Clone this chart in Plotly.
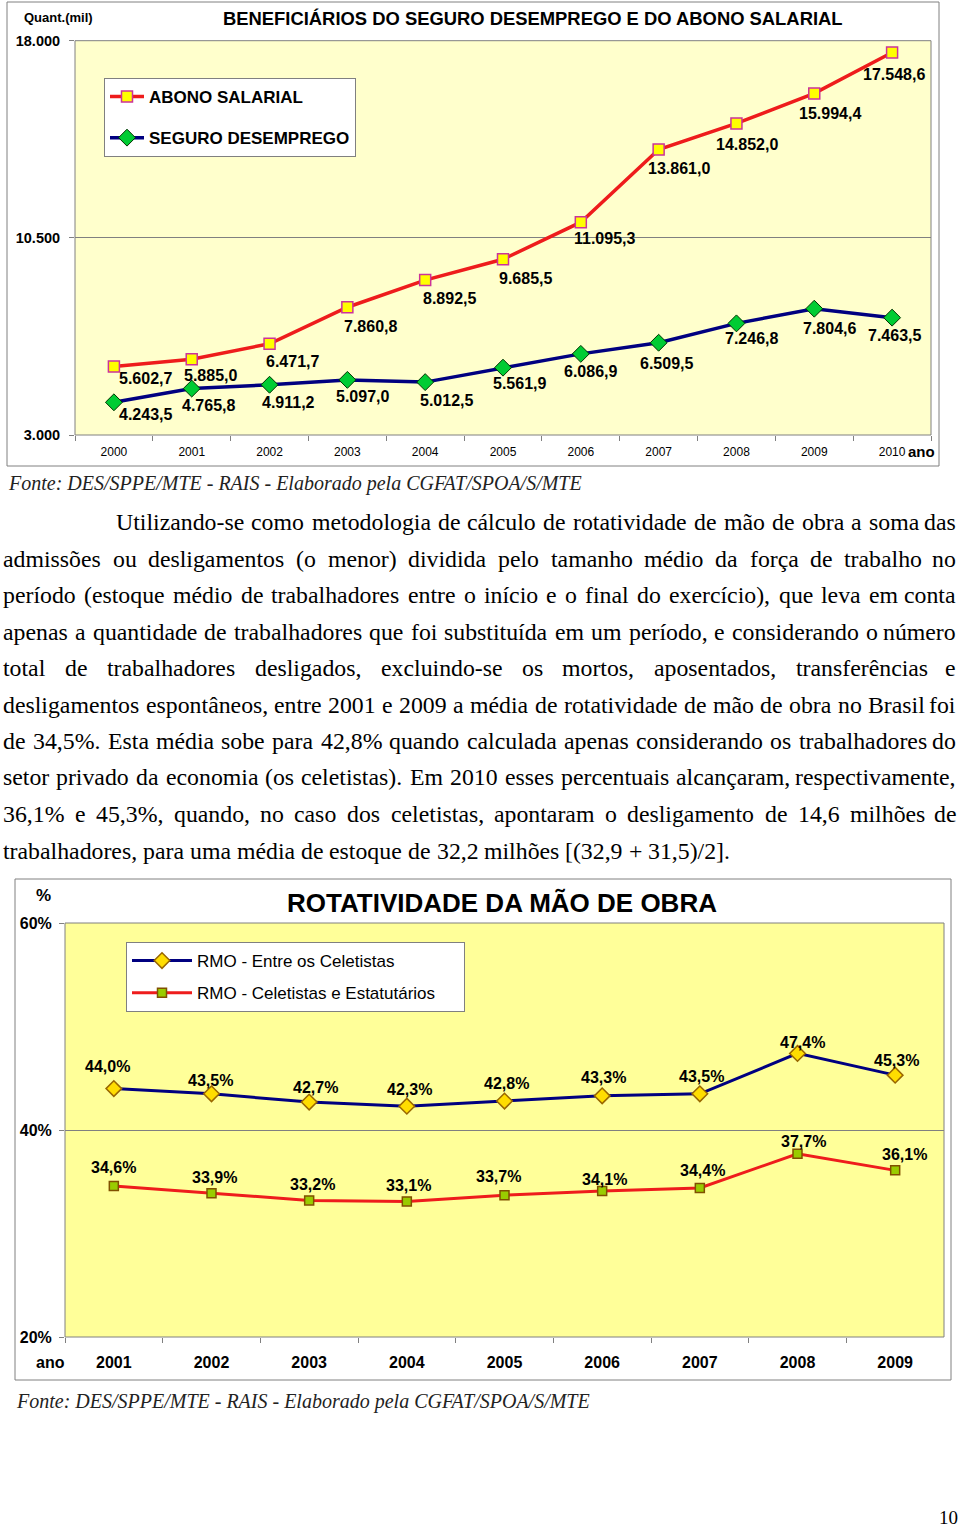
import plotly.graph_objects as go

W, H = 960, 1528

# ---------------- data ----------------
anos_1 = ['2000', '2001', '2002', '2003', '2004', '2005', '2006', '2007', '2008', '2009', '2010']
abono_salarial = [5602.7, 5885.0, 6471.7, 7860.8, 8892.5, 9685.5, 11095.3, 13861.0, 14852.0, 15994.4, 17548.6]
seguro_desemprego = [4243.5, 4765.8, 4911.2, 5097.0, 5012.5, 5561.9, 6086.9, 6509.5, 7246.8, 7804.6, 7463.5]
ticks_1 = [3000, 10500, 18000]
ticks_1_txt = ['3.000', '10.500', '18.000']

anos_2 = ['2001', '2002', '2003', '2004', '2005', '2006', '2007', '2008', '2009']
rmo_celetistas = [44.0, 43.5, 42.7, 42.3, 42.8, 43.3, 43.5, 47.4, 45.3]
rmo_cel_estat = [34.6, 33.9, 33.2, 33.1, 33.7, 34.1, 34.4, 37.7, 36.1]
ticks_2 = [20, 40, 60]
ticks_2_txt = ['20%', '40%', '60%']

paragrafo = [
    "Utilizando-se como metodologia de cálculo de rotatividade de mão de obra a soma das",
    "admissões ou desligamentos (o menor) dividida pelo tamanho médio da força de trabalho no",
    "período (estoque médio de trabalhadores entre o início e o final do exercício), que leva em conta",
    "apenas a quantidade de trabalhadores que foi substituída em um período, e considerando o número",
    "total de trabalhadores desligados, excluindo-se os mortos, aposentados, transferências e",
    "desligamentos espontâneos, entre 2001 e 2009 a média de rotatividade de mão de obra no Brasil foi",
    "de 34,5%. Esta média sobe para 42,8% quando calculada apenas considerando os trabalhadores do",
    "setor privado da economia (os celetistas). Em 2010 esses percentuais alcançaram, respectivamente,",
    "36,1% e 45,3%, quando, no caso dos celetistas, apontaram o desligamento de 14,6 milhões de",
    "trabalhadores, para uma média de estoque de 32,2 milhões [(32,9 + 31,5)/2].",
]
fonte = "Fonte: DES/SPPE/MTE - RAIS - Elaborado pela CGFAT/SPOA/S/MTE"

# ---------------- label offsets (px, style only) ----------------
ab_dx = [32, 19, 23, 23, 24, 22, 24, 20, 11, 16, 2]
ab_dy = [-12, -16, -18, -19, -18, -19, -16, -19, -21, -20, -22]
sg_dx = [32, 17, 19, 15, 21, 16, 10, 8, 15, 15, 2]
sg_dy = [-12, -17, -18, -17, -18, -16, -18, -21, -15, -20, -18]
c_dx = [-6, -1, 6, 3, 2, 1, 2, 5, 1]
c_dy = [22, 13, 15, 17, 18, 18, 17, 11, 15]
t_dx = [0, 3, 3, 2, -6, 2, 3, 6, 9]
t_dy = [18, 16, 16, 16, 19, 12, 17, 12, 16]

SANS = "Liberation Sans, Arial, sans-serif"
SERIF = "Liberation Serif, Times New Roman, serif"
GREY = '#808080'
PAD = '\u00a0' * 5


def px(x):
    return x / W


def py(y):
    return 1 - y / H


def fmt_br(v):
    return f"{v:,.1f}".replace(',', 'X').replace('.', ',').replace('X', '.')


def fmt_pct(v):
    return f"{v:.1f}%".replace('.', ',')


fig = go.Figure()

# chart 1 traces
fig.add_trace(go.Scatter(
    x=anos_1, y=abono_salarial, name='ABONO SALARIAL', mode='lines+markers',
    line=dict(color='#ee1c1c', width=3.5),
    marker=dict(symbol='square', size=11, color='#ffff00', line=dict(color='#cc3399', width=1.5)),
    xaxis='x', yaxis='y', legend='legend', legendgroup='a', hoverinfo='skip'))
fig.add_trace(go.Scatter(
    x=anos_1, y=seguro_desemprego, name='SEGURO DESEMPREGO', mode='lines+markers',
    line=dict(color='#000080', width=3.5),
    marker=dict(symbol='diamond', size=13, color='#00cc33', line=dict(color='#003300', width=1)),
    xaxis='x', yaxis='y', legend='legend', legendgroup='b', hoverinfo='skip'))

# chart 2 traces
fig.add_trace(go.Scatter(
    x=anos_2, y=rmo_celetistas, name='RMO - Entre os Celetistas', mode='lines+markers',
    line=dict(color='#000080', width=3),
    marker=dict(symbol='diamond', size=12, color='#ffdd00', line=dict(color='#996600', width=1.5)),
    xaxis='x2', yaxis='y2', legend='legend2', legendgroup='c', hoverinfo='skip'))
fig.add_trace(go.Scatter(
    x=anos_2, y=rmo_cel_estat, name='RMO - Celetistas e Estatutários' + PAD, mode='lines+markers',
    line=dict(color='#ee1c1c', width=3),
    marker=dict(symbol='square', size=9, color='#99cc00', line=dict(color='#805000', width=1.5)),
    xaxis='x2', yaxis='y2', legend='legend2', legendgroup='d', hoverinfo='skip'))

shapes = [
    # outer chart frames
    dict(type='rect', xref='paper', yref='paper', x0=px(7), x1=px(939), y0=py(466), y1=py(2),
         line=dict(color=GREY, width=1), fillcolor='white', layer='below'),
    dict(type='rect', xref='paper', yref='paper', x0=px(15), x1=px(951), y0=py(1380), y1=py(879),
         line=dict(color=GREY, width=1), fillcolor='white', layer='below'),
    # plot areas
    dict(type='rect', xref='x domain', yref='y domain', x0=0, x1=1, y0=0, y1=1,
         line=dict(color=GREY, width=1), fillcolor='#ffffcc', layer='below'),
    dict(type='rect', xref='x2 domain', yref='y2 domain', x0=0, x1=1, y0=0, y1=1,
         line=dict(color=GREY, width=1), fillcolor='#ffff99', layer='below'),
]

ann = []


def note(text, x, y, size, xanchor='center', family=SANS, color='black'):
    ann.append(dict(text=text, x=px(x), y=py(y), xref='paper', yref='paper', xanchor=xanchor,
                    yanchor='middle', showarrow=False, font=dict(family=family, size=size, color=color),
                    borderpad=0))


# chart 1 texts
note('<b>Quant.(mil)</b>', 58, 17, 13)
note('<b>BENEFICIÁRIOS DO SEGURO DESEMPREGO E DO ABONO SALARIAL</b>', 533, 19, 18.4)
note('<b>ano</b>', 907, 452, 15, xanchor='left')
note('<i>' + fonte + '</i>', 7, 484, 20, xanchor='left', family=SERIF, color='#222222')

# data labels chart 1 (x given as category index on the category axis)
for i in range(len(anos_1)):
    ann.append(dict(text='<b>' + fmt_br(abono_salarial[i]) + '</b>', x=i, y=abono_salarial[i],
                    xref='x', yref='y', xshift=ab_dx[i], yshift=ab_dy[i], showarrow=False,
                    font=dict(family=SANS, size=16, color='black')))
    ann.append(dict(text='<b>' + fmt_br(seguro_desemprego[i]) + '</b>', x=i, y=seguro_desemprego[i],
                    xref='x', yref='y', xshift=sg_dx[i], yshift=sg_dy[i], showarrow=False,
                    font=dict(family=SANS, size=16, color='black')))

# chart 2 texts
note('<b>%</b>', 43, 896, 17)
note('<b>ROTATIVIDADE DA MÃO DE OBRA</b>', 502, 903, 26)
note('<b>ano</b>', 50, 1362, 16)
note('<i>' + fonte + '</i>', 15, 1401, 20, xanchor='left', family=SERIF, color='#222222')
note('10', 948, 1517, 19, family=SERIF)

for i in range(len(anos_2)):
    ann.append(dict(text='<b>' + fmt_pct(rmo_celetistas[i]) + '</b>', x=i, y=rmo_celetistas[i],
                    xref='x2', yref='y2', xshift=c_dx[i], yshift=c_dy[i], showarrow=False,
                    font=dict(family=SANS, size=16, color='black')))
    ann.append(dict(text='<b>' + fmt_pct(rmo_cel_estat[i]) + '</b>', x=i, y=rmo_cel_estat[i],
                    xref='x2', yref='y2', xshift=t_dx[i], yshift=t_dy[i], showarrow=False,
                    font=dict(family=SANS, size=16, color='black')))

# paragraph, justified using Times metrics
TW = {' ': 250, 'a': 444, 'b': 500, 'c': 444, 'd': 500, 'e': 444, 'f': 333, 'g': 500, 'h': 500, 'i': 278,
      'j': 278, 'k': 500, 'l': 278, 'm': 778, 'n': 500, 'o': 500, 'p': 500, 'q': 500, 'r': 333, 's': 389,
      't': 278, 'u': 500, 'v': 500, 'w': 722, 'x': 500, 'y': 500, 'z': 444,
      'A': 722, 'B': 667, 'C': 667, 'D': 722, 'E': 611, 'F': 556, 'G': 722, 'H': 722, 'I': 333, 'J': 389,
      'K': 722, 'L': 611, 'M': 889, 'N': 722, 'O': 722, 'P': 556, 'Q': 722, 'R': 667, 'S': 556, 'T': 611,
      'U': 722, 'V': 722, 'W': 944, 'X': 722, 'Y': 722, 'Z': 611,
      '.': 250, ',': 250, '(': 333, ')': 333, '-': 333, '%': 833, '[': 333, ']': 333, '/': 278, '+': 564,
      ':': 278, 'á': 444, 'é': 444, 'í': 278, 'ã': 444, 'õ': 500, 'ç': 444, 'ê': 444, 'ú': 500, 'ó': 500,
      'â': 444}
PSIZE = 23.8


def tw(s):
    return sum(TW.get(c, 500) for c in s) / 1000.0 * PSIZE


line_y = [522, 559, 595, 632, 668, 705, 741, 777, 814, 851]
for li, line in enumerate(paragrafo):
    words = line.split(' ')
    left = 115 if li == 0 else 2
    right = 957
    widths = [tw(w) for w in words]
    last = li == len(paragrafo) - 1
    gap = tw(' ') if last else (right - left - sum(widths)) / (len(words) - 1)
    x = left
    for wi, w in enumerate(words):
        if not last and wi == len(words) - 1:
            note(w, right, line_y[li], PSIZE, xanchor='right', family=SERIF)
        else:
            note(w, x, line_y[li], PSIZE, xanchor='left', family=SERIF)
        x += widths[wi] + gap

fig.update_layout(
    width=W, height=H, margin=dict(l=0, r=0, t=0, b=0, pad=0, autoexpand=False),
    paper_bgcolor='white', plot_bgcolor='rgba(0,0,0,0)',
    showlegend=True,
    xaxis=dict(domain=[px(75), px(931)], anchor='y', type='category', range=[-0.5, 10.5],
               tickson='boundaries', ticks='outside', ticklen=5, tickcolor=GREY, showgrid=False,
               zeroline=False, showline=False, ticklabelstandoff=8, automargin=False,
               tickfont=dict(family=SANS, size=12, color='black'), fixedrange=True),
    yaxis=dict(domain=[py(435), py(40.7)], anchor='x', range=[3000, 18000], tickvals=ticks_1,
               ticktext=ticks_1_txt, ticks='outside', ticklen=5, tickcolor=GREY, showgrid=True,
               gridcolor=GREY, gridwidth=1, zeroline=False, showline=False, ticklabelstandoff=6,
               automargin=False,
               tickfont=dict(family=SANS, size=14.5, color='black', weight='bold'), fixedrange=True),
    xaxis2=dict(domain=[px(65), px(944)], anchor='y2', type='category', range=[-0.5, 8.5],
                tickson='boundaries', ticks='outside', ticklen=5, tickcolor=GREY, showgrid=False,
                zeroline=False, showline=False, ticklabelstandoff=14, automargin=False,
                tickfont=dict(family=SANS, size=16, color='black', weight='bold'), fixedrange=True),
    yaxis2=dict(domain=[py(1337), py(923)], anchor='x2', range=[20, 60], tickvals=ticks_2,
                ticktext=ticks_2_txt, ticks='outside', ticklen=5, tickcolor=GREY, showgrid=True,
                gridcolor=GREY, gridwidth=1, zeroline=False, showline=False, ticklabelstandoff=4,
                automargin=False,
                tickfont=dict(family=SANS, size=16, color='black', weight='bold'), fixedrange=True),
    legend=dict(x=px(104), y=py(78), xanchor='left', yanchor='top', bgcolor='white', bordercolor=GREY,
                borderwidth=1, traceorder='grouped', tracegroupgap=16, itemwidth=34,
                font=dict(family=SANS, size=17, color='black', weight='bold')),
    legend2=dict(x=px(126), y=py(942), xanchor='left', yanchor='top', bgcolor='white', bordercolor=GREY,
                 borderwidth=1, traceorder='grouped', tracegroupgap=7, itemwidth=60,
                 font=dict(family=SANS, size=17, color='black')),
    shapes=shapes,
    annotations=ann,
)

post = ("document.documentElement.style.margin='0';document.documentElement.style.padding='0';"
        "document.body.style.margin='0';document.body.style.padding='0';document.body.style.overflow='hidden';"
        "var gd=document.getElementById('{plot_id}');gd.style.position='absolute';gd.style.top='0px';gd.style.left='0px';")
fig.write_html("out.html", config={'displayModeBar': False}, post_script=post)
